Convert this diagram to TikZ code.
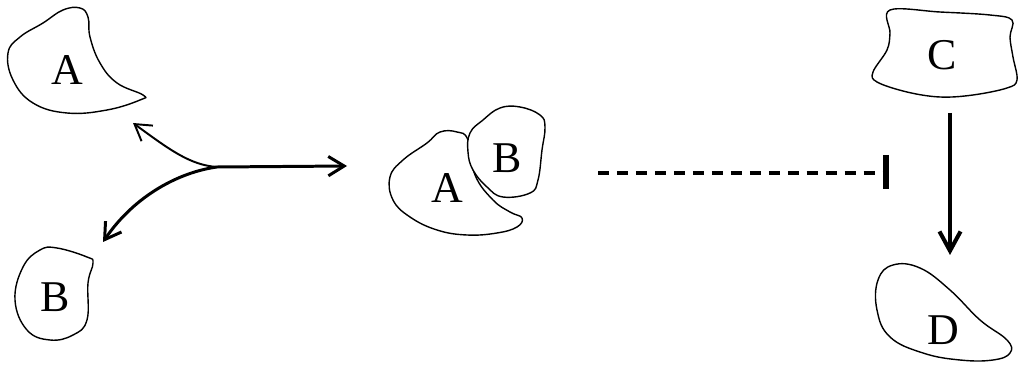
\documentclass[tikz,border=0pt]{standalone}
\usepackage{fontspec}
\setmainfont{Liberation Serif}
\usetikzlibrary{arrows.meta}

\tikzset{
    blob/.style={draw, fill=white, line width=0.8pt},
    lbl/.style={font=\fontsize{25}{28}\selectfont, inner sep=0pt},
    path/.style={line width=1.7pt, -{Straight Barb[length=9pt, width=11pt]}},
}

\begin{document}
\begin{tikzpicture}[x=0.02cm, y=-0.02cm]
    \useasboundingbox (0,0) rectangle (1019,375);
    % free proteins on the left
    \draw[blob] plot[smooth cycle, tension=0.7] coordinates {(80,8) (88,17) (90,37) (100,63) (117,83) (143,95) (140,100) (107,110) (67,113) (33,103) (13,80) (8,53) (20,37) (43,23) (63,10)};
    \node[lbl] (a1) at (67,70) {A};
    \draw[blob] plot[smooth cycle, tension=0.7] coordinates {(57,248) (87,257) (93,263) (88,283) (87,320) (73,335) (50,340) (27,330) (15,300) (23,267) (40,250)};
    \node[lbl] (b1) at (55,297) {B};

    % the complex
    \draw[blob] plot[smooth cycle, tension=0.7] coordinates {(468,140) (457,132) (440,132) (427,143) (403,160) (390,177) (393,200) (410,217) (437,230) (467,235) (497,233) (517,227) (522,218) (510,212) (493,200) (475,175)};
    \node[lbl] (a2) at (447,188) {A};
    \draw[blob] plot[smooth cycle, tension=0.7] coordinates {(470,133) (483,120) (500,108) (520,107) (540,115) (545,127) (542,150) (538,180) (530,193) (503,197) (487,187) (473,170) (468,152)};
    \node[lbl] (b2) at (507,158) {B};

    % C and D on the right
    \draw[blob] plot[smooth cycle, tension=0.6] coordinates {(890,10) (940,12) (990,15) (1012,20) (1010,37) (1013,57) (1017,80) (1007,88) (973,95) (940,97) (907,92) (877,82) (873,72) (887,50) (890,33)};
    \node[lbl] (c) at (942,55) {C};
    \draw[blob] plot[smooth cycle, tension=0.7] coordinates {(893,265) (920,268) (950,290) (980,320) (1007,340) (1010,353) (993,360) (960,360) (923,353) (890,337) (877,310) (878,280)};
    \node[lbl] (d) at (943,330) {D};

    % association / dissociation
    \coordinate (fork) at (217,167);
    \coordinate (toA) at (133,123);
    \coordinate (toB) at (103,242);
    \coordinate (toAB) at (347,166);
    \draw[path] (fork) -- (toAB);
    \draw[path, line width=1.1pt] (fork) .. controls (190,165) and (170,150) .. (toA);
    \draw[path] (fork) .. controls (180,172) and (135,195) .. (toB);

    % inhibition by the complex
    \coordinate (inhS) at (598,173);
    \coordinate (inhE) at (886,173);
    \draw[line width=1.8pt, dash pattern=on 6.5pt off 4.3pt] (inhS) -- (inhE);
    \draw[line width=3pt] (886,155) -- (886,189);

    % activation of D
    \coordinate (actS) at (950,113);
    \coordinate (actE) at (950,255);
    \draw[path, line width=2.3pt, -{Straight Barb[length=11pt, width=12pt]}] (actS) -- (actE);
\end{tikzpicture}
\end{document}
